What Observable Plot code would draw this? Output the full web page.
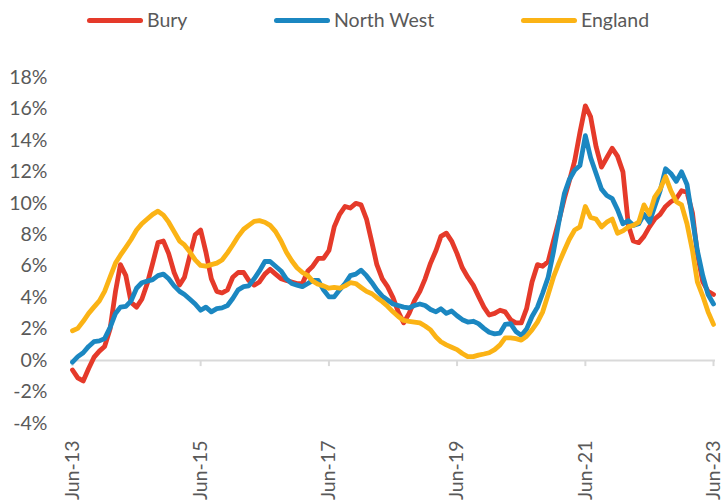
<!DOCTYPE html>
<html><head><meta charset="utf-8">
<script src="https://cdn.jsdelivr.net/npm/d3@7"></script>
<script src="https://cdn.jsdelivr.net/npm/@observablehq/plot@0.6"></script>
<style>
body{margin:0;background:#fff;font-family:Lato,sans-serif;}
#wrap{position:relative;width:721px;height:504px;overflow:hidden;background:#fff}
#legend{position:relative;height:40px}
.sw{position:absolute;top:18px;height:5px;border-radius:3px;width:56px}
.lb{position:absolute;top:8px;font-size:19.5px;color:#595959;line-height:24px;white-space:nowrap}
</style></head><body>
<div id="wrap"><div id="legend"></div><div id="chart"></div></div>
<script>
const seriesNames = ["Bury", "North West", "England"];
const seriesColors = ["#E53A2A", "#1B87C1", "#FBB315"];
const yTicks = [-4, -2, 0, 2, 4, 6, 8, 10, 12, 14, 16, 18];
const xTickLabels = ["Jun-13", "Jun-15", "Jun-17", "Jun-19", "Jun-21", "Jun-23"];

// Monthly values, Jun-13 .. Jun-23 (121 months), in %
const bury = [
 -0.6, -1.1, -1.3, -0.5, 0.2, 0.6, 0.9, 2.0, 4.4, 6.1,
 5.4, 3.7, 3.4, 3.9, 4.9, 6.2, 7.5, 7.6, 6.8, 5.6,
 4.8, 5.3, 6.7, 8.0, 8.3, 6.9, 5.2, 4.4, 4.3, 4.5,
 5.3, 5.6, 5.6, 5.1, 4.8, 5.0, 5.5, 5.8, 5.5, 5.2,
 5.1, 5.0, 4.9, 4.9, 5.7, 6.0, 6.5, 6.5, 7.0, 8.5,
 9.3, 9.8, 9.7, 10.0, 9.9, 9.0, 7.5, 6.1, 5.2, 4.7,
 4.0, 3.1, 2.4, 3.0, 3.8, 4.4, 5.2, 6.2, 7.0, 7.9,
 8.1, 7.6, 6.8, 5.9, 5.3, 4.8, 4.1, 3.4, 2.9, 3.0,
 3.2, 3.1, 2.6, 2.4, 2.4, 3.3, 5.0, 6.1, 6.0, 6.3,
 7.6, 8.9, 10.3, 11.4, 12.7, 14.5, 16.2, 15.5, 13.6, 12.3,
 12.9, 13.5, 13.0, 12.0, 8.6, 7.6, 7.5, 7.9, 8.5, 9.0,
 9.3, 9.8, 10.1, 10.3, 10.8, 10.7, 9.4, 6.8, 5.0, 4.4,
 4.2
];
const northWest = [
 -0.1, 0.25, 0.5, 0.9, 1.2, 1.25, 1.4, 2.1, 3.0, 3.4,
 3.45, 3.8, 4.6, 4.95, 5.05, 5.15, 5.4, 5.5, 5.2, 4.75,
 4.4, 4.2, 3.9, 3.6, 3.2, 3.4, 3.1, 3.3, 3.35, 3.5,
 3.95, 4.5, 4.7, 4.75, 5.2, 5.7, 6.3, 6.3, 6.0, 5.7,
 5.2, 4.9, 4.8, 4.7, 4.9, 5.1, 5.1, 4.5, 4.05, 4.05,
 4.5, 4.9, 5.4, 5.5, 5.75, 5.4, 4.95, 4.5, 4.1, 3.85,
 3.6, 3.5, 3.4, 3.35, 3.5, 3.6, 3.5, 3.25, 3.1, 3.3,
 3.0, 3.15, 2.85, 2.6, 2.45, 2.5, 2.35, 2.05, 1.8, 1.7,
 1.75, 2.3, 2.35, 1.85, 1.6, 2.0, 2.8, 3.4, 4.3, 5.3,
 6.9, 8.8, 10.6, 11.5, 12.1, 12.4, 14.3, 12.9, 11.9, 10.9,
 10.5, 10.3, 9.6, 8.7, 8.9, 8.6, 8.7, 9.3, 8.8, 9.8,
 10.8, 12.2, 11.9, 11.4, 12.0, 11.2, 9.0, 7.0, 5.4, 4.2,
 3.6
];
const england = [
 1.9, 2.05, 2.5, 3.0, 3.4, 3.8, 4.4, 5.3, 6.2, 6.7,
 7.2, 7.7, 8.3, 8.7, 9.0, 9.3, 9.5, 9.25, 8.8, 8.2,
 7.6, 7.35, 6.9, 6.4, 6.05, 6.0, 6.1, 6.2, 6.4, 6.85,
 7.35, 7.9, 8.35, 8.6, 8.85, 8.9, 8.8, 8.6, 8.2, 7.6,
 6.9, 6.35, 5.9, 5.6, 5.4, 5.05, 4.85, 4.75, 4.6, 4.65,
 4.6, 4.75, 4.95, 4.9, 4.65, 4.4, 4.25, 4.0, 3.75, 3.45,
 3.1, 2.8, 2.55, 2.5, 2.45, 2.4, 2.2, 1.95, 1.5, 1.2,
 1.0, 0.85, 0.7, 0.45, 0.25, 0.25, 0.35, 0.42, 0.5, 0.7,
 1.0, 1.45, 1.45, 1.4, 1.3, 1.55, 1.95, 2.45, 3.1, 4.2,
 5.3, 6.2, 7.0, 7.7, 8.3, 8.5, 9.8, 9.1, 9.0, 8.5,
 8.8, 9.0, 8.1, 8.25, 8.5, 8.6, 8.8, 9.9, 9.3, 10.4,
 10.9, 11.7, 10.8, 10.1, 9.9, 8.7, 7.0, 5.0, 4.1, 3.1,
 2.3
];

const months = d3.utcMonth.range(new Date(Date.UTC(2013, 5, 1)), new Date(Date.UTC(2023, 6, 1)));
const parseTick = d3.utcParse("%b-%y");
const xTicks = xTickLabels.map(parseTick);
const allSeries = [bury, northWest, england];
const data = allSeries.flatMap((vals, s) => vals.map((v, i) => ({date: months[i], value: v, series: seriesNames[s]})));

// Legend (HTML, above the SVG)
const legendLayout = [{sw: 87, lb: 147}, {sw: 274, lb: 334}, {sw: 521, lb: 581}];
const legend = document.getElementById("legend");
seriesNames.forEach((name, i) => {
  const sw = document.createElement("div");
  sw.className = "sw"; sw.style.left = legendLayout[i].sw + "px"; sw.style.background = seriesColors[i];
  const lb = document.createElement("div");
  lb.className = "lb"; lb.style.left = legendLayout[i].lb + "px"; lb.textContent = name;
  legend.appendChild(sw); legend.appendChild(lb);
});

const chart = Plot.plot({
  width: 721, height: 464,
  marginTop: 37, marginBottom: 81, marginLeft: 70, marginRight: 6,
  insetLeft: 2, insetRight: 2,
  style: {fontFamily: "Lato, sans-serif", fontSize: "19.5px", color: "#595959", background: "#fff", overflow: "visible"},
  x: {type: "utc", domain: [months[0], months[months.length - 1]], label: null},
  y: {domain: [-4, 18], label: null},
  color: {domain: seriesNames, range: seriesColors},
  marks: [
    Plot.ruleY([0], {stroke: "#d9d9d9", strokeWidth: 2}),
    Plot.ruleX(xTicks, {x: d => d, y1: 0, y2: 0, insetBottom: -6, stroke: "#d9d9d9", strokeWidth: 2}),
    Plot.axisY({ticks: yTicks, tickFormat: d => d + "%", tickSize: 0, tickPadding: 23}),
    Plot.axisX({ticks: xTicks, tickFormat: d3.utcFormat("%b-%y"), tickRotate: -90, tickSize: 0, tickPadding: 17, dx: 0}),
    Plot.line(data, {x: "date", y: "value", z: "series", stroke: "series", strokeWidth: 4.8, strokeLinejoin: "round", strokeLinecap: "round"})
  ]
});
document.getElementById("chart").appendChild(chart);
</script>
</body></html>
